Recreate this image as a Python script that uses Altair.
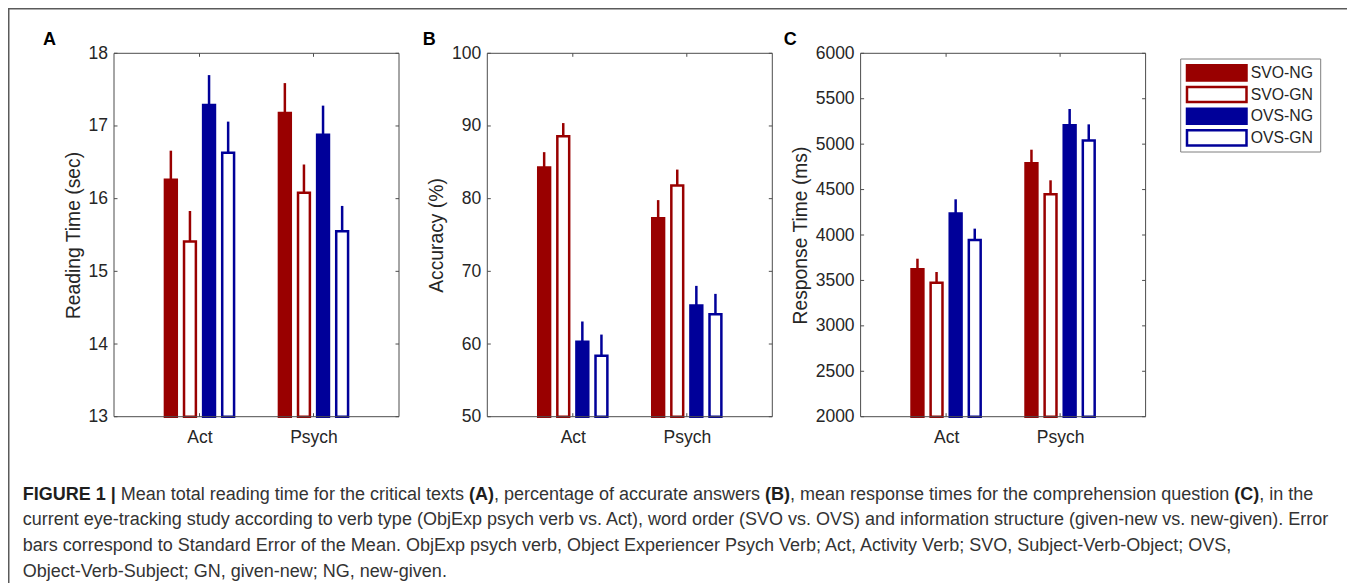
import altair as alt
import pandas as pd

# ---------------- data ----------------
conditions = ["SVO-NG", "SVO-GN", "OVS-NG", "OVS-GN"]
verb_types = ["Act", "Psych"]

reading_act = [16.26, 15.41, 17.29, 16.63]
reading_act_se = [0.40, 0.42, 0.41, 0.43]
reading_psych = [17.18, 16.08, 16.88, 15.55]
reading_psych_se = [0.41, 0.39, 0.40, 0.35]

accuracy_act = [84.3, 88.6, 60.3, 58.4]
accuracy_act_se = [2.1, 1.8, 2.8, 2.9]
accuracy_psych = [77.3, 81.8, 65.3, 64.1]
accuracy_psych_se = [2.5, 2.2, 2.7, 2.8]

response_act = [3622, 3475, 4238, 3945]
response_act_se = [117, 118, 155, 125]
response_psych = [4789, 4448, 5207, 5039]
response_psych_se = [150, 154, 180, 179]

reading_ticks = [13, 14, 15, 16, 17, 18]
accuracy_ticks = [50, 60, 70, 80, 90, 100]
response_ticks = [2000, 2500, 3000, 3500, 4000, 4500, 5000, 5500, 6000]

panel_letters = ["A", "B", "C"]
y_titles = ["Reading Time (sec)", "Accuracy (%)", "Response Time (ms)"]

caption_lines = [
    [("FIGURE 1 |", True), (" Mean total reading time for the critical texts ", False),
     ("(A)", True), (", percentage of accurate answers ", False), ("(B)", True),
     (", mean response times for the comprehension question ", False), ("(C)", True),
     (", in the", False)],
    [("current eye-tracking study according to verb type (ObjExp psych verb vs. Act), "
      "word order (SVO vs. OVS) and information structure (given-new vs. new-given). Error", False)],
    [("bars correspond to Standard Error of the Mean. ObjExp psych verb, Object Experiencer "
      "Psych Verb; Act, Activity Verb; SVO, Subject-Verb-Object; OVS,", False)],
    [("Object-Verb-Subject; GN, given-new; NG, new-given.", False)],
]

# ---------------- style / layout ----------------
FONT = "Liberation Sans"
W, H = 1339, 575
PT, PB = 45.3, 408.7
PW = 285
LEFTS = [106.0, 479.3, 852.6]
LETTER_X = [35.0, 414.7, 775.7]
TICK = 3.5
BOX = "#4d4d4d"
TXT = "#262626"
GAP = 0.1675
HALF = 0.052

fill_scale = alt.Scale(domain=conditions, range=["#990000", "#ffffff", "#000099", "#ffffff"])
stroke_scale = alt.Scale(domain=conditions, range=["#990000", "#990000", "#000099", "#000099"])
fill_enc = alt.Fill("cond:N", scale=fill_scale, legend=None)
stroke_enc = alt.Stroke("cond:N", scale=stroke_scale, legend=None)


def make_panel(idx, act, act_se, psych, psych_se, ticks):
    left = LEFTS[idx]
    right = left + PW
    rows = []
    for gi, (vt, means, ses) in enumerate([(verb_types[0], act, act_se),
                                           (verb_types[1], psych, psych_se)], start=1):
        for ci, (c, m, s) in enumerate(zip(conditions, means, ses)):
            rows.append(dict(verb=vt, cond=c, g=gi, k=ci, mean=m, se=s))
    df = pd.DataFrame(rows)

    xs = alt.Scale(domain=[0.25, 2.75], range=[left, right], nice=False, zero=False)
    ys = alt.Scale(domain=[ticks[0], ticks[-1]], range=[PB, PT], nice=False, zero=False)
    label_expr = "[" + ",".join(f"'{v}'" for v in verb_types) + "][datum.value - 1]"
    xaxis = alt.Axis(orient="bottom", offset=PB - H, values=[1, 2], labelExpr=label_expr,
                     title=None, labelPadding=11.5)
    yaxis = alt.Axis(orient="left", offset=-left, values=ticks, format="d",
                     title=y_titles[idx], titlePadding=5, labelPadding=6.5)

    base = alt.Chart(df).transform_calculate(
        xc=f"datum.g + (datum.k - 1.5) * {GAP}",
        xl=f"datum.g + (datum.k - 1.5) * {GAP} - {HALF}",
        xr=f"datum.g + (datum.k - 1.5) * {GAP} + {HALF}",
        up="datum.mean + datum.se",
        b0=f"{ticks[0]}",
    )
    err = base.mark_rule(strokeWidth=2.5).encode(
        x=alt.X("xc:Q", scale=xs, axis=xaxis),
        y=alt.Y("mean:Q", scale=ys, axis=yaxis),
        y2="up:Q",
        stroke=stroke_enc,
    )
    bars = base.mark_bar(strokeWidth=2.5).encode(
        x=alt.X("xl:Q", scale=xs, axis=xaxis),
        x2="xr:Q",
        y=alt.Y("mean:Q", scale=ys, axis=yaxis),
        y2="b0:Q",
        fill=fill_enc,
        stroke=stroke_enc,
    )
    box_df = pd.DataFrame({"x0": [0.25], "x1": [2.75], "y0": [ticks[0]], "y1": [ticks[-1]]})
    box = alt.Chart(box_df).mark_rect(fill="transparent", stroke=BOX, strokeWidth=1).encode(
        x=alt.X("x0:Q", scale=xs, axis=xaxis), x2="x1:Q",
        y=alt.Y("y0:Q", scale=ys, axis=yaxis), y2="y1:Q",
    )
    tdf = pd.DataFrame({"v": ticks})
    lt = alt.Chart(tdf).mark_rule(stroke=BOX, strokeWidth=1).encode(
        y=alt.Y("v:Q", scale=ys, axis=yaxis), x=alt.value(left), x2=alt.value(left + TICK))
    rt = alt.Chart(tdf).mark_rule(stroke=BOX, strokeWidth=1).encode(
        y=alt.Y("v:Q", scale=ys, axis=yaxis), x=alt.value(right - TICK), x2=alt.value(right))
    gdf = pd.DataFrame({"g": [1, 2]})
    bt = alt.Chart(gdf).mark_rule(stroke=BOX, strokeWidth=1).encode(
        x=alt.X("g:Q", scale=xs, axis=xaxis), y=alt.value(PB - TICK), y2=alt.value(PB))
    tt = alt.Chart(gdf).mark_rule(stroke=BOX, strokeWidth=1).encode(
        x=alt.X("g:Q", scale=xs, axis=xaxis), y=alt.value(PT), y2=alt.value(PT + TICK))
    letter = alt.Chart(pd.DataFrame({"t": [panel_letters[idx]]})).mark_text(
        font=FONT, fontSize=18, fontWeight="bold", align="left", baseline="alphabetic",
        color="#000000").encode(text="t:N", x=alt.value(LETTER_X[idx]), y=alt.value(37))
    return alt.layer(err, bars, box, lt, rt, bt, tt, letter)


pA = make_panel(0, reading_act, reading_act_se, reading_psych, reading_psych_se, reading_ticks)
pB = make_panel(1, accuracy_act, accuracy_act_se, accuracy_psych, accuracy_psych_se, accuracy_ticks)
pC = make_panel(2, response_act, response_act_se, response_psych, response_psych_se, response_ticks)

# ---------------- legend (drawn from the condition list) ----------------
leg_df = pd.DataFrame({"cond": conditions})
lys = alt.Scale(domain=conditions, range=[57.3, 137.4], paddingInner=0.304, paddingOuter=0)
one = pd.DataFrame({"a": [0]})
leg_frame = alt.Chart(one).mark_rect(fill="white", stroke="#7f7f7f", strokeWidth=1).encode(
    x=alt.value(1172.7), x2=alt.value(1312.7), y=alt.value(51), y2=alt.value(144))
leg_sw = alt.Chart(leg_df).mark_rect(strokeWidth=2.5).encode(
    y=alt.Y("cond:N", scale=lys, axis=None), x=alt.value(1179), x2=alt.value(1238.5),
    fill=fill_enc, stroke=stroke_enc)
leg_tx = alt.Chart(leg_df).mark_text(font=FONT, fontSize=15.8, align="left", baseline="middle",
                                     color=TXT).encode(
    y=alt.Y("cond:N", scale=lys, axis=None), x=alt.value(1242.7), text="cond:N")
legend = alt.layer(leg_frame, leg_sw, leg_tx)

# ---------------- frame ----------------
frame_top = alt.Chart(one).mark_rule(stroke="#5a5a5a", strokeWidth=1.5).encode(
    x=alt.value(0), x2=alt.value(W), y=alt.value(0.75))
frame_left = alt.Chart(one).mark_rule(stroke="#5a5a5a", strokeWidth=1.5).encode(
    x=alt.value(0.75), y=alt.value(0), y2=alt.value(H))

# ---------------- caption (Arial/Liberation metric widths for inline bold) ----------------
CAP_SIZE = 18
CAP_X = 14.7
CAP_Y0 = 491.5
CAP_DY = 25.7
REG = dict(zip("ABCDEFGHIJKLMNOPQRSTUVWXYZ",
               [667, 667, 722, 722, 667, 611, 778, 722, 278, 500, 667, 556, 833, 722, 778, 667,
                778, 722, 667, 611, 722, 667, 944, 667, 667, 611]))
REG.update(dict(zip("abcdefghijklmnopqrstuvwxyz",
                    [556, 556, 500, 556, 556, 278, 556, 556, 222, 222, 500, 222, 833, 556, 556,
                     556, 556, 333, 500, 278, 556, 500, 722, 500, 500, 500])))
REG.update({" ": 278, ",": 278, ".": 278, ";": 278, ":": 278, "(": 333, ")": 333, "-": 333,
            "|": 260, "%": 889})
BOLD = dict(zip("ABCDEFGHIJKLMNOPQRSTUVWXYZ",
                [722, 722, 722, 722, 667, 611, 778, 722, 278, 556, 722, 611, 833, 722, 778, 667,
                 778, 722, 667, 611, 722, 667, 944, 667, 667, 611]))
BOLD.update({" ": 278, "(": 333, ")": 333, "|": 280, "1": 556, ",": 278})


def text_w(s, bold):
    table = BOLD if bold else REG
    return sum(table.get(ch, 556) for ch in s) / 1000.0 * CAP_SIZE


cap_rows = []
for li, segs in enumerate(caption_lines):
    x = CAP_X
    for txt, bold in segs:
        lead = len(txt) - len(txt.lstrip(" "))
        trail = len(txt) - len(txt.rstrip(" "))
        core = txt.strip(" ")
        x += text_w(" " * lead, bold)
        cap_rows.append(dict(t=core, x=x, y=CAP_Y0 + li * CAP_DY, b=bold))
        x += text_w(core, bold) + text_w(" " * trail, bold)
cap_df = pd.DataFrame(cap_rows)

cap_reg = alt.Chart(cap_df).transform_filter("!datum.b").mark_text(
    font=FONT, fontSize=CAP_SIZE, align="left", baseline="alphabetic", color="#333333").encode(
    x=alt.X("x:Q", scale=None, axis=None), y=alt.Y("y:Q", scale=None, axis=None), text="t:N")
cap_bold = alt.Chart(cap_df).transform_filter("datum.b").mark_text(
    font=FONT, fontSize=CAP_SIZE, fontWeight="bold", align="left", baseline="alphabetic",
    color="#1e1e1e").encode(
    x=alt.X("x:Q", scale=None, axis=None), y=alt.Y("y:Q", scale=None, axis=None), text="t:N")

chart = alt.layer(frame_top, frame_left, pA, pB, pC, legend, cap_reg, cap_bold).resolve_scale(
    x="independent", y="independent").properties(
    width=W, height=H, padding=0, autosize=alt.AutoSizeParams(type="none")
).configure_view(strokeWidth=0).configure_axis(
    labelFont=FONT, labelFontSize=17.5, labelColor=TXT,
    titleFont=FONT, titleFontSize=19.3, titleColor=TXT, titleFontWeight="normal",
    domain=False, ticks=False, tickSize=0, grid=False,
)

chart.save("out.html", embed_options={"renderer": "svg", "actions": False})
